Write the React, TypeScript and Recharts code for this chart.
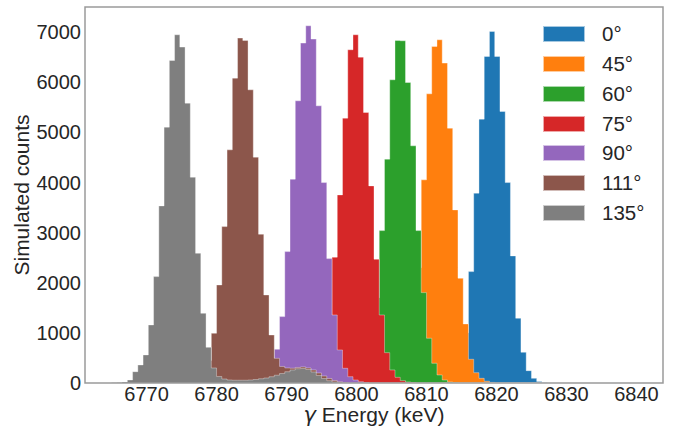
import React from 'react';
import { AreaChart, Area, XAxis, YAxis, Legend, ReferenceArea, Label } from 'recharts';

const angles = ['0°', '45°', '60°', '75°', '90°', '111°', '135°'];
const colors = ['#1f77b4', '#ff7f0e', '#2ca02c', '#d62728', '#9467bd', '#8c564b', '#7f7f7f'];

// shared binning: 100 bins of 0.75 keV starting at 6765 keV
const BIN_START = 6765;
const BIN_WIDTH = 0.75;
const N_BINS = 100;

// index of the first listed bin for each angle
const firstBin = [63, 53, 45, 36, 26, 14, 0];

const counts0 = [20, 60, 170, 450, 1000, 2222, 3786, 5263, 6513, 7012, 6513, 5415, 3998, 2535, 1291, 612, 246, 93, 30, 10];
const counts45 = [20, 60, 180, 500, 1150, 2300, 4052, 5768, 6713, 6846, 6381, 5083, 3453, 2089, 1178, 473, 206, 93, 35, 12];
const counts60 = [15, 40, 120, 320, 800, 1700, 3040, 4465, 6048, 6833, 6826, 5994, 4731, 3040, 1803, 892, 393, 160, 60, 20, 8];
const counts75 = [20, 50, 120, 280, 620, 1300, 2509, 3752, 5283, 6647, 6946, 6500, 5396, 3932, 2469, 1357, 605, 260, 113, 47, 20, 8];
const counts90 = [10, 30, 70, 150, 320, 672, 1324, 2621, 4065, 5629, 6780, 7126, 6860, 5529, 3998, 2481, 1357, 659, 293, 126, 60, 25, 10];
const counts111 = [10, 30, 80, 200, 450, 992, 1956, 3120, 4651, 6081, 6880, 6833, 5848, 4505, 2968, 1756, 958, 492, 330, 300, 295, 310, 320, 300, 260, 200, 140, 90, 50, 25, 10];
const counts135 = [5, 10, 20, 60, 226, 360, 560, 1158, 2122, 3533, 5103, 6433, 6946, 6700, 5582, 4105, 2588, 1390, 712, 300, 130, 80, 60, 55, 55, 55, 60, 70, 85, 100, 125, 155, 190, 225, 260, 285, 290, 270, 220, 150, 90, 45, 20, 10, 5];

const allCounts = [counts0, counts45, counts60, counts75, counts90, counts111, counts135];

const energyTicks = [6770, 6780, 6790, 6800, 6810, 6820, 6830, 6840];
const countTicks = [0, 1000, 2000, 3000, 4000, 5000, 6000, 7000];

const X_DOMAIN: [number, number] = [6761.2, 6843.8];
const Y_DOMAIN: [number, number] = [0, 7500];

const FONT = "'Liberation Sans', Arial, sans-serif";
const TEXT = '#262626';

// one row per bin edge, stepAfter draws the histogram bars
const rows = Array.from({ length: N_BINS + 1 }, (_, k) => {
  const row: Record<string, number> = { x: BIN_START + k * BIN_WIDTH };
  allCounts.forEach((c, i) => {
    const v = k < N_BINS ? c[k - firstBin[i]] : undefined;
    row['s' + i] = v ?? 0;
  });
  return row;
});

const XTitle = (props: any) => {
  const vb = props.viewBox;
  return (
    <text x={vb.x + vb.width / 2} y={vb.y + 39} textAnchor="middle" fontSize={21} fontFamily={FONT} fill={TEXT}>
      <tspan fontStyle="italic" fontFamily="'DejaVu Sans'">γ</tspan>{' '}Energy (keV)
    </text>
  );
};

const YTitle = (props: any) => {
  const vb = props.viewBox;
  const cy = vb.y + vb.height / 2;
  return (
    <text x={29} y={cy} transform={`rotate(-90, 29, ${cy})`} textAnchor="middle" fontSize={21} fontFamily={FONT} fill={TEXT}>
      Simulated counts
    </text>
  );
};

const AngleLegend = () => (
  <div style={{ display: 'flex', flexDirection: 'column' }}>
    {angles.map((a, i) => (
      <div key={a} style={{ display: 'flex', alignItems: 'center', height: 29.73 }}>
        <div style={{ width: 42, height: 16, background: colors[i], boxSizing: 'border-box', border: '1px solid rgba(255,255,255,0.6)' }} />
        <span style={{ marginLeft: 17, fontSize: 20.5, fontFamily: FONT, color: TEXT, lineHeight: '20px' }}>{a}</span>
      </div>
    ))}
  </div>
);

export default function App() {
  return (
    <div style={{ position: 'absolute', left: 0, top: 0 }}>
      <AreaChart width={673} height={430} data={rows} margin={{ top: 7, right: 10, bottom: 7, left: 7 }}>
        <XAxis
          type="number"
          dataKey="x"
          domain={X_DOMAIN}
          allowDataOverflow
          ticks={energyTicks}
          height={40}
          tickLine={false}
          axisLine={false}
          tickSize={0}
          tickMargin={4}
          tick={{ fontSize: 20, fontFamily: FONT, fill: TEXT }}
        >
          <Label content={XTitle} />
        </XAxis>
        <YAxis
          type="number"
          domain={Y_DOMAIN}
          allowDataOverflow
          ticks={countTicks}
          width={78}
          tickLine={false}
          axisLine={false}
          tickSize={0}
          tickMargin={4}
          tick={{ fontSize: 20, fontFamily: FONT, fill: TEXT }}
        >
          <Label content={YTitle} />
        </YAxis>
        {angles.map((a, i) => (
          <Area
            key={a}
            type="stepAfter"
            dataKey={'s' + i}
            name={a}
            fill={colors[i]}
            fillOpacity={1}
            stroke="#ffffff"
            strokeOpacity={0.5}
            strokeWidth={0.7}
            dot={false}
            activeDot={false}
            isAnimationActive={false}
          />
        ))}
        <ReferenceArea x1={X_DOMAIN[0]} x2={X_DOMAIN[1]} y1={Y_DOMAIN[0]} y2={Y_DOMAIN[1]} fill="none" stroke="#9a9a9a" strokeWidth={1.5} />
        <Legend
          layout="horizontal"
          verticalAlign="middle"
          align="center"
          content={AngleLegend}
          wrapperStyle={{ left: 543, top: 19.5, width: 125, height: 210 }}
        />
      </AreaChart>
    </div>
  );
}
